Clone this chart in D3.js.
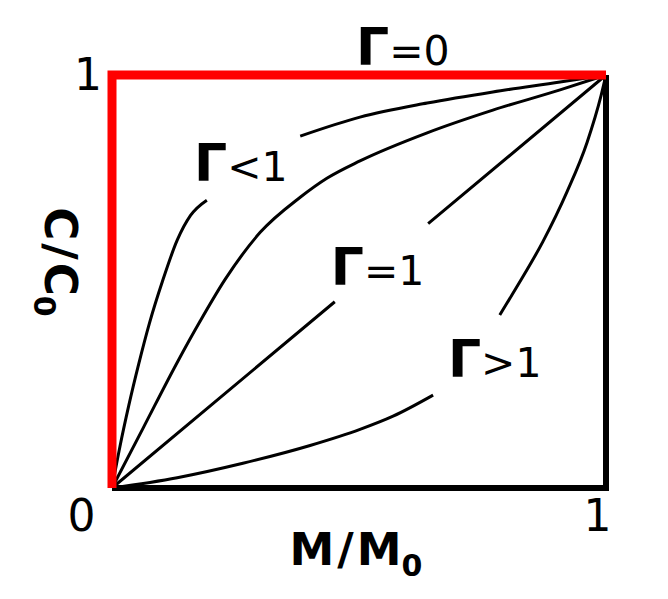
<!DOCTYPE html>
<html>
<head>
<meta charset="utf-8">
<script src="https://cdn.jsdelivr.net/npm/d3@7"></script>
<style>
  html, body { margin: 0; padding: 0; background: #fff; }
  text { font-family: "DejaVu Sans", Verdana, sans-serif; }
</style>
</head>
<body>
<div id="chart"></div>
<script>
// C/C0 against M/M0 for different values of Gamma.
// a null in a series leaves a gap where a label sits
const gammaZero = [[0, 0], [0, 1], [1, 1]];
const gammaBelowOneSteep = [
  [0, 0], [0.016, 0.10], [0.034, 0.20], [0.054, 0.30], [0.076, 0.40],
  [0.102, 0.50], [0.132, 0.60], [0.159, 0.66], [0.192, 0.697],
  null,
  [0.381, 0.852], [0.502, 0.898], [0.638, 0.932], [0.771, 0.959],
  [0.907, 0.983], [1, 1]
];
const gammaBelowOne = [
  [0, 0], [0.063, 0.145], [0.132, 0.304], [0.178, 0.403], [0.229, 0.505],
  [0.300, 0.619], [0.381, 0.704], [0.435, 0.750], [0.502, 0.792],
  [0.638, 0.860], [0.771, 0.915], [0.907, 0.964], [1, 1]
];
const gammaOne = [[0, 0], [0.451, 0.451], null, [0.640, 0.640], [1, 1]];
const gammaAboveOne = [
  [0, 0], [0.132, 0.025], [0.265, 0.060], [0.401, 0.103], [0.502, 0.142],
  [0.569, 0.174], [0.650, 0.225],
  null,
  [0.785, 0.419], [0.822, 0.492], [0.872, 0.596], [0.921, 0.717],
  [0.962, 0.838], [0.990, 0.950], [1, 1]
];
const frameEdge = [[0, 0], [1, 0], [1, 1]];

const labelTexts = ['=0', '<1', '=1', '>1'];
const labelAnchors = [[0.494, 1.024], [0.166, 0.743], [0.443, 0.492], [0.680, 0.269]];
const xTicks = [0, 1];
const yTicks = [1];

const margin = {top: 75, right: 62, bottom: 111, left: 112},
  width = 668 - margin.left - margin.right,
  height = 599 - margin.top - margin.bottom;

const x = d3.scaleLinear().domain([0, 1]).range([0, width]);
const y = d3.scaleLinear().domain([0, 1]).range([height, 0]);

const svg = d3.select('#chart')
  .append('svg')
  .attr('width', width + margin.left + margin.right)
  .attr('height', height + margin.top + margin.bottom)
  .append('g')
  .attr('transform', `translate(${margin.left},${margin.top})`);

const smooth = d3.line()
  .defined(d => d !== null)
  .x(d => x(d[0]))
  .y(d => y(d[1]))
  .curve(d3.curveMonotoneX);

const straight = d3.line()
  .x(d => x(d[0]))
  .y(d => y(d[1]));

// the curves
svg.selectAll('path.curve')
  .data([gammaBelowOneSteep, gammaBelowOne, gammaOne, gammaAboveOne])
  .enter().append('path')
  .attr('class', 'curve')
  .attr('d', smooth)
  .attr('fill', 'none')
  .attr('stroke', '#000')
  .attr('stroke-width', 3);

// bottom and right edges of the box
svg.append('path')
  .attr('d', straight(frameEdge))
  .attr('fill', 'none')
  .attr('stroke', '#000')
  .attr('stroke-width', 6)
  .attr('stroke-linejoin', 'miter');

// Gamma = 0 runs up the left side then along the top
svg.append('path')
  .attr('d', straight(gammaZero))
  .attr('fill', 'none')
  .attr('stroke', '#ff0000')
  .attr('stroke-width', 9)
  .attr('stroke-linejoin', 'miter');

// axes, only the tick labels are kept
const xAxis = svg.append('g')
  .attr('transform', `translate(0,${height})`)
  .call(d3.axisBottom(x).tickValues(xTicks).tickSize(0).tickPadding(12).tickFormat(d3.format('d')));
const yAxis = svg.append('g')
  .call(d3.axisLeft(y).tickValues(yTicks).tickSize(0).tickPadding(10).tickFormat(d3.format('d')));

[xAxis, yAxis].forEach(a => {
  a.select('.domain').remove();
  a.selectAll('text')
    .attr('fill', '#000')
    .style('font-size', '44px');
});
xAxis.selectAll('text').attr('dx', d => d === 0 ? -31 : -9);

// Gamma labels
const labels = svg.selectAll('text.gamma')
  .data(labelTexts)
  .enter().append('text')
  .attr('class', 'gamma')
  .attr('x', (d, i) => x(labelAnchors[i][0]))
  .attr('y', (d, i) => y(labelAnchors[i][1]));
labels.append('tspan')
  .style('font-size', '52px')
  .style('font-weight', 'bold')
  .text('\u0393');
labels.append('tspan')
  .style('font-size', '41px')
  .text(d => d);

// axis titles
const xTitle = svg.append('text')
  .attr('x', 244)
  .attr('y', height + 77)
  .attr('text-anchor', 'middle')
  .style('font-size', '45px')
  .style('font-weight', 'bold');
xTitle.append('tspan').text('M');
xTitle.append('tspan').attr('dx', 3).text('/');
xTitle.append('tspan').attr('dx', 3).text('M');
xTitle.append('tspan').attr('dy', 11).style('font-size', '30px').text('0');

const yTitle = svg.append('text')
  .attr('transform', `translate(${-67},${187}) rotate(90)`)
  .attr('text-anchor', 'middle')
  .style('font-size', '45px')
  .style('font-weight', 'bold');
yTitle.append('tspan').text('C');
yTitle.append('tspan').attr('dx', 3).text('/');
yTitle.append('tspan').attr('dx', 3).text('C');
yTitle.append('tspan').attr('dy', 11).style('font-size', '30px').text('0');
</script>
</body>
</html>
